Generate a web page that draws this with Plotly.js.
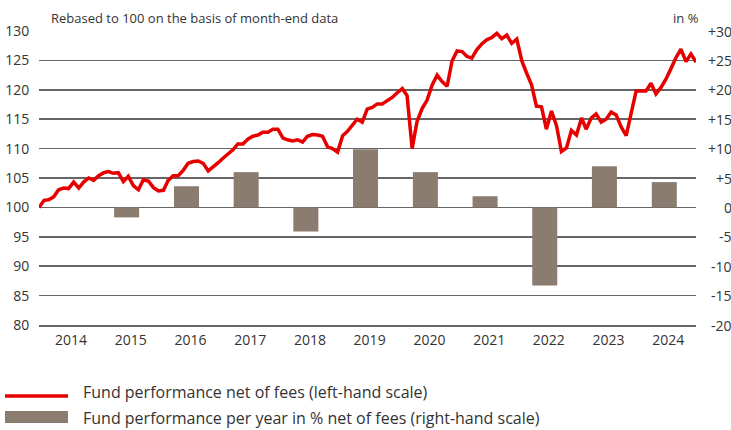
<!DOCTYPE html>
<html><head><meta charset="utf-8">
<script src="https://cdn.plot.ly/plotly-3.0.1.min.js"></script>
<style>html,body{margin:0;padding:0;background:#fff}</style>
</head><body>
<div id="chart" style="width:731px;height:430px"></div>
<script>
// ---- data ----
const firstMonth = [2013, 12];           // first month-end of the line
const fundIndex = [
  100.0,101.2,101.3,101.8,103.0,103.3,103.2,104.3,103.3,104.3,105.0,104.6,
  105.4,105.9,106.1,105.8,105.9,104.4,105.3,103.7,103.0,104.7,104.5,103.4,
  102.8,102.9,104.6,105.4,105.4,106.3,107.5,107.8,107.9,107.5,106.2,106.8,
  107.6,108.4,109.0,109.8,110.8,110.8,111.6,112.1,112.3,112.8,112.8,113.3,
  113.3,111.8,111.5,111.3,111.5,111.1,112.1,112.4,112.3,112.1,110.3,110.0,
  109.4,112.2,112.9,114.0,115.0,114.5,116.7,117.0,117.6,117.6,118.1,118.7,
  119.5,120.2,119.0,110.0,114.6,116.8,118.2,120.8,122.5,121.4,120.6,124.9,
  126.6,126.5,125.7,125.4,126.8,127.8,128.5,128.9,129.6,128.7,129.3,127.9,
  128.6,124.9,122.9,120.9,117.2,117.1,113.3,116.4,113.9,109.5,110.1,113.1,
  112.3,115.2,113.3,115.2,115.9,114.5,115.0,116.2,115.7,113.7,112.2,115.9,
  119.8,119.8,119.8,121.1,119.3,120.4,121.8,123.6,125.5,126.9,124.8,126.1,
  124.7
];
const barYears = ['2015','2016','2017','2018','2019','2020','2021','2022','2023','2024'];
const annualReturns = [-1.7, 3.6, 6.0, -4.1, 9.9, 6.0, 1.9, -13.3, 7.0, 4.3];
const yearLabels = ['2014','2015','2016','2017','2018','2019','2020','2021','2022','2023','2024'];
const leftTicks = [80, 85, 90, 95, 100, 105, 110, 115, 120, 125, 130];
const rightTicks = [-20, -15, -10, -5, 0, 5, 10, 15, 20, 25, 30];
const rightTickText = ['-20','-15','-10','-5','0','+5','+10','+15','+20','+25','+30'];
const titleText = 'Rebased to 100 on the basis of month-end data';
const unitText = 'in %';
const legendLine = 'Fund performance net of fees (left-hand scale)';
const legendBar = 'Fund performance per year in % net of fees (right-hand scale)';

// ---- build ----
function monthEnd(y, m) {
  const d = new Date(Date.UTC(y, m, 0));
  return d.toISOString().slice(0, 10);
}
const lineDates = fundIndex.map((_, i) => {
  const total = firstMonth[0] * 12 + (firstMonth[1] - 1) + i;
  return monthEnd(Math.floor(total / 12), (total % 12) + 1);
});

const W = 731, H = 430;
const M = {l: 39, r: 35, t: 31, b: 105};
const PW = W - M.l - M.r, PH = H - M.t - M.b;
const px = x => (x - M.l) / PW;
const py = y => (H - M.b - y) / PH;

const FONT = 'Open Sans, Noto Sans, sans-serif';
const TXT = '#333333';
const RED = '#e60000';
const BAR = '#8a7c6e';
const GRID = '#666666';
const DAY = 86400000;

const traces = [
  {
    type: 'bar', x: barYears.map(y => y + '-06-20'), y: annualReturns,
    yaxis: 'y2', width: 153 * DAY, marker: {color: BAR}, showlegend: false,
    hoverinfo: 'y'
  },
  {
    type: 'scatter', mode: 'lines', x: lineDates, y: fundIndex,
    line: {color: RED, width: 3.5}, showlegend: false
  }
];

const annotations = [
  {xref: 'paper', yref: 'paper', x: px(49), y: py(18), xanchor: 'left', yanchor: 'middle',
   text: titleText, showarrow: false, font: {family: FONT, size: 13, color: TXT}},
  {xref: 'paper', yref: 'paper', x: px(701), y: py(18), xanchor: 'right', yanchor: 'middle',
   text: unitText, showarrow: false, font: {family: FONT, size: 13, color: TXT}},
  {xref: 'paper', yref: 'paper', x: px(81), y: py(392), xanchor: 'left', yanchor: 'middle',
   text: legendLine, showarrow: false, font: {family: FONT, size: 16, color: TXT}},
  {xref: 'paper', yref: 'paper', x: px(81), y: py(418), xanchor: 'left', yanchor: 'middle',
   text: legendBar, showarrow: false, font: {family: FONT, size: 16, color: TXT}}
];
rightTicks.forEach((v, i) => annotations.push({
  xref: 'paper', yref: 'y2', x: px(734), y: v, xanchor: 'right', yanchor: 'middle',
  text: rightTickText[i], showarrow: false, font: {family: FONT, size: 14, color: TXT}
}));

const shapes = [
  {type: 'line', xref: 'paper', yref: 'paper', x0: px(5), x1: px(68), y0: py(396), y1: py(396),
   line: {color: RED, width: 3.5}},
  {type: 'rect', xref: 'paper', yref: 'paper', x0: px(5), x1: px(68), y0: py(411), y1: py(423),
   fillcolor: BAR, line: {width: 0}}
];

const layout = {
  width: W, height: H, margin: M,
  paper_bgcolor: '#fff', plot_bgcolor: '#fff',
  font: {family: FONT, size: 14, color: TXT},
  showlegend: false,
  xaxis: {
    type: 'date', range: [lineDates[0], lineDates[lineDates.length - 1]],
    tickvals: yearLabels.map(y => y + '-07-15'), ticktext: yearLabels,
    showgrid: false, zeroline: false,
    showline: true, linecolor: GRID, linewidth: 1.5,
    ticks: 'outside', ticklen: 2, tickcolor: 'rgba(0,0,0,0)',
    tickfont: {family: FONT, size: 14, color: TXT}
  },
  yaxis: {
    range: [80, 130], tickvals: leftTicks, ticktext: leftTicks.map(String),
    showgrid: true, gridcolor: GRID, gridwidth: 1.5, zeroline: false, showline: false,
    ticks: 'outside', ticklen: 6, tickcolor: 'rgba(0,0,0,0)',
    tickfont: {family: FONT, size: 14, color: TXT}
  },
  yaxis2: {
    overlaying: 'y', side: 'right', range: [-20, 30], tickvals: rightTicks,
    showgrid: false, zeroline: false, showline: false, showticklabels: false, ticks: ''
  },
  annotations, shapes
};

Plotly.newPlot('chart', traces, layout, {displayModeBar: false, staticPlot: true});
</script>
</body></html>
